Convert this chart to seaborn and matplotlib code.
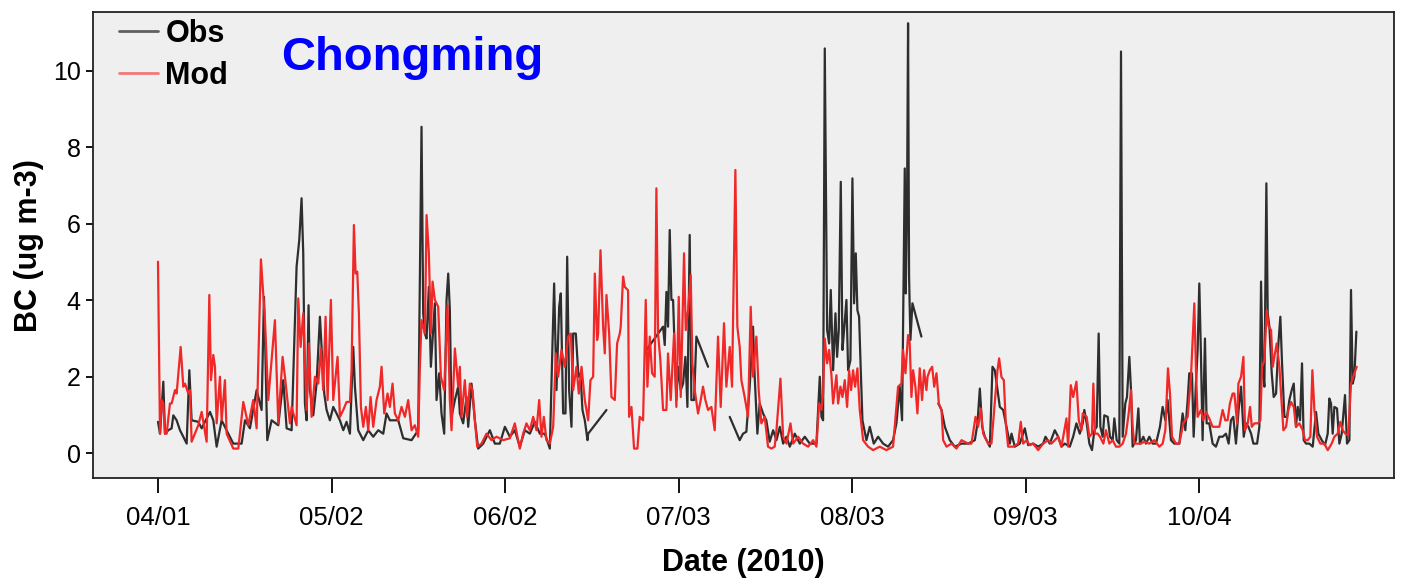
import numpy as np
import pandas as pd
import matplotlib
matplotlib.use("Agg")
import matplotlib.pyplot as plt
from matplotlib.lines import Line2D
import seaborn as sns

nan = np.nan
start_date = "2010-04-01"
tick_labels = ["04/01", "05/02", "06/02", "07/03", "08/03", "09/03", "10/04"]
series_names = ["Obs", "Mod"]

# (days since 2010-04-01, BC in ug m-3); nan marks missing observations
obs_points = [
    (0.0, 0.82), (0.36, 0.51), (0.95, 1.87), (1.25, 0.51), (1.85, 0.60), (2.44, 0.65), (2.74, 0.99),
    (3.33, 0.86), (3.93, 0.60), (4.52, 0.43), (5.12, 0.25), (5.6, 2.17), (6.01, 0.86), (7.2, 0.82),
    (7.8, 0.65), (9.29, 1.08), (9.88, 0.86), (10.48, 0.17), (11.37, 0.86), (12.56, 0.51), (13.45, 0.25),
    (14.94, 0.25), (15.54, 0.86), (16.43, 0.65), (17.62, 1.65), (18.51, 1.13), (18.93, 4.09), (19.11, 3.13),
    (19.52, 0.34), (20.3, 0.86), (21.49, 0.73), (22.38, 1.91), (22.98, 0.65), (23.87, 0.60), (24.76, 4.88),
    (25.24, 5.58), (25.65, 6.67), (25.95, 5.23), (26.25, 1.30), (26.55, 0.86), (26.9, 3.87), (27.14, 1.65),
    (27.74, 0.99), (28.33, 1.82), (28.93, 3.57), (29.35, 2.43), (29.7, 1.56), (30.12, 1.13), (30.71, 0.86),
    (31.31, 1.21), (31.9, 1.04), (32.5, 0.86), (33.1, 0.60), (33.69, 0.82), (34.29, 0.51), (34.88, 2.78),
    (35.18, 1.74), (35.77, 0.60), (36.67, 0.34), (37.56, 0.60), (38.45, 0.43), (39.35, 0.60), (40.24, 0.51),
    (40.83, 1.04), (41.43, 0.86), (42.2, 0.86), (42.92, 0.86), (43.81, 0.39), (45.3, 0.34), (46.49, 0.60),
    (47.08, 8.54), (47.38, 3.66), (47.68, 3.13), (47.98, 3.0), (48.39, 4.35), (48.75, 2.26), (49.46, 3.92),
    (49.76, 1.39), (50.24, 2.09), (50.65, 1.04), (51.13, 0.51), (51.55, 4.01), (51.85, 4.70), (52.14, 3.74),
    (52.44, 0.95), (53.04, 1.39), (53.63, 1.74), (53.93, 1.04), (54.52, 0.78), (55.12, 1.47), (55.42, 0.69),
    (56.01, 1.82), (56.61, 0.86), (57.2, 0.12), (58.1, 0.25), (59.29, 0.60), (60.18, 0.25), (61.07, 0.25),
    (61.97, 0.69), (62.86, 0.43), (63.75, 0.60), (64.64, 0.17), (65.54, 0.60), (66.43, 0.51), (67.32, 0.82),
    (68.21, 0.51), (69.11, 0.51), (70.0, 0.12), (70.48, 2.87), (70.77, 4.44), (71.19, 1.65), (71.67, 3.83),
    (71.96, 4.18), (72.38, 1.04), (72.8, 1.04), (73.1, 5.14), (73.45, 1.65), (73.87, 0.69), (74.17, 3.13),
    (74.64, 3.13), (75.12, 2.0), (75.48, 2.09), (75.83, 1.13), (76.25, 0.86), (76.73, 0.34), (76.85, 0.51),
    (80.12, 1.13), (80.5, nan),
    (87.25, 2.70), (90.23, 3.31), (90.53, 2.83), (90.83, 4.22), (91.12, 3.31), (91.42, 5.84), (91.72, 4.01),
    (92.02, 4.01), (92.31, 2.70), (92.61, 1.39), (92.91, 2.26), (93.39, 1.65), (93.8, 1.82), (94.22, 2.52),
    (94.58, 1.21), (94.99, 5.71), (95.29, 1.39), (95.77, 1.39), (96.18, 3.05), (98.27, 2.26), (98.6, nan),
    (102.14, 0.95), (103.92, 0.34), (104.52, 0.51), (105.11, 0.56), (105.71, 1.74), (106.3, 3.31),
    (106.6, 2.0), (107.08, 0.51), (107.49, 1.30), (108.09, 1.04), (108.68, 0.86), (109.28, 0.30),
    (109.9, 0.60), (110.49, 0.34), (111.09, 0.69), (111.68, 0.25), (112.28, 0.43), (112.87, 0.17),
    (113.76, 0.51), (114.66, 0.25), (115.55, 0.43), (116.44, 0.25), (117.63, 0.25), (118.23, 2.0),
    (118.53, 0.95), (118.82, 0.86), (119.12, 10.59), (119.54, 3.22), (119.9, 2.87), (120.19, 4.27),
    (120.61, 2.17), (121.03, 3.66), (121.32, 2.52), (121.62, 3.22), (121.98, 7.10), (122.28, 2.70),
    (122.57, 3.22), (122.99, 4.01), (123.29, 2.17), (123.7, 2.43), (124.06, 7.19), (124.36, 3.92),
    (124.66, 5.23), (124.95, 3.74), (125.25, 3.57), (125.55, 2.17), (125.85, 0.86), (126.56, 0.34),
    (127.16, 0.69), (127.87, 0.25), (128.65, 0.43), (129.54, 0.25), (130.43, 0.17), (131.32, 0.34),
    (131.92, 0.78), (132.51, 1.74), (132.93, 0.86), (133.41, 7.45), (133.59, 4.18), (133.82, 6.62),
    (134.0, 11.25), (134.18, 4.62), (134.42, 2.96), (134.78, 3.92), (136.38, 3.05), (136.7, nan),
    (139.4, 1.30), (139.98, 1.13), (140.57, 0.69), (141.46, 0.34), (142.36, 0.17), (143.55, 0.25),
    (144.74, 0.25), (145.93, 0.34), (146.4, 0.78), (146.82, 1.69), (147.24, 0.69), (147.71, 0.43),
    (148.61, 0.17), (149.08, 2.26), (149.5, 2.17), (149.98, 1.65), (150.39, 1.21), (150.99, 1.13),
    (151.58, 0.69), (152.18, 0.25), (152.48, 0.51), (153.07, 0.17), (153.96, 0.25), (154.86, 0.65),
    (155.45, 0.21), (156.35, 0.25), (157.24, 0.17), (158.13, 0.25), (158.55, 0.43), (159.32, 0.25),
    (160.21, 0.60), (160.81, 0.43), (161.4, 0.17), (162.0, 0.25), (162.89, 0.17), (163.49, 0.43),
    (164.08, 0.78), (164.68, 0.51), (165.2, 0.78), (165.49, 1.13), (165.91, 0.78), (166.39, 0.25),
    (166.86, 0.08), (167.28, 0.60), (167.7, 0.69), (168.05, 3.13), (168.35, 0.69), (168.77, 0.43),
    (169.06, 0.99), (169.66, 0.95), (170.08, 0.43), (170.55, 0.34), (170.85, 0.91), (171.27, 0.34),
    (171.74, 0.25), (172.04, 10.51), (172.34, 0.43), (172.81, 1.30), (173.11, 1.47), (173.53, 2.52),
    (173.83, 1.65), (174.12, 0.17), (174.72, 0.34), (175.14, 1.17), (175.43, 0.25), (176.03, 0.43),
    (176.5, 0.25), (177.1, 0.43), (177.7, 0.25), (178.29, 0.25), (179.0, 0.69), (179.48, 1.21),
    (179.96, 0.86), (180.37, 1.39), (180.97, 0.34), (181.56, 0.25), (182.46, 0.25), (183.05, 1.04),
    (183.53, 0.60), (183.95, 1.39), (184.24, 2.09), (184.72, 2.09), (185.02, 0.43), (185.43, 1.82),
    (185.73, 2.70), (186.03, 4.44), (186.33, 2.52), (186.62, 0.34), (187.04, 3.0), (187.34, 0.78),
    (187.81, 0.78), (188.41, 0.25), (189.0, 0.17), (189.6, 0.43), (190.2, 0.43), (190.79, 0.51),
    (191.27, 0.25), (191.68, 0.86), (192.1, 0.95), (192.58, 0.25), (193.05, 1.13), (193.49, 1.74),
    (193.97, 0.43), (194.38, 0.78), (194.8, 0.69), (195.28, 0.51), (195.69, 0.25), (196.35, 0.25),
    (196.76, 0.69), (197.06, 4.49), (197.36, 2.17), (197.66, 1.74), (198.01, 7.06), (198.25, 3.66),
    (198.55, 3.31), (198.97, 2.09), (199.32, 1.47), (199.74, 1.56), (200.16, 2.87), (200.51, 3.57),
    (200.81, 2.35), (201.23, 0.95), (201.7, 0.95), (202.12, 1.39), (202.54, 1.65), (202.9, 1.82),
    (203.31, 0.69), (203.61, 1.21), (204.03, 0.86), (204.38, 2.35), (204.68, 0.34), (205.1, 0.25),
    (205.69, 0.25), (206.29, 0.17), (206.88, 1.08), (207.3, 0.51), (207.9, 0.34), (208.49, 0.21),
    (208.97, 0.51), (209.26, 1.43), (209.56, 1.30), (209.86, 0.51), (210.16, 1.21), (210.63, 1.17),
    (211.05, 0.25), (211.47, 0.51), (212.06, 1.52), (212.42, 0.25), (212.84, 0.34), (213.13, 4.27),
    (213.43, 1.82), (213.73, 2.0), (214.09, 3.18),
]

mod_points = [
    (0.0, 5.01), (0.36, 0.51), (0.65, 1.39), (0.95, 1.30), (1.25, 0.51), (1.55, 0.51), (2.14, 1.30),
    (2.44, 1.30), (3.04, 1.65), (3.33, 1.56), (4.05, 2.78), (4.52, 1.74), (4.82, 1.82), (5.42, 1.56),
    (5.71, 1.65), (6.01, 0.30), (7.2, 0.73), (7.8, 1.08), (8.69, 0.30), (9.17, 4.14), (9.46, 1.91),
    (9.88, 2.57), (10.18, 2.26), (10.48, 0.78), (11.07, 2.0), (11.37, 0.86), (11.96, 1.91), (12.26, 0.51),
    (13.45, 0.12), (14.35, 0.12), (15.24, 1.34), (16.13, 0.73), (17.02, 1.39), (17.62, 0.65), (18.39, 5.07),
    (19.11, 3.48), (19.7, 1.39), (20.89, 3.48), (21.49, 0.78), (22.26, 2.52), (22.68, 2.0), (23.57, 0.78),
    (23.87, 1.21), (24.76, 0.73), (25.06, 4.05), (25.48, 2.78), (25.95, 3.66), (26.55, 1.13), (26.96, 2.87),
    (27.44, 0.95), (28.04, 2.0), (28.63, 1.82), (29.11, 2.74), (29.52, 1.65), (29.94, 3.57), (30.3, 1.39),
    (30.89, 4.01), (31.31, 1.39), (32.08, 2.52), (32.5, 0.95), (33.1, 1.13), (33.69, 1.34), (34.29, 1.34),
    (34.58, 2.17), (35.0, 5.97), (35.3, 4.70), (35.6, 4.75), (35.89, 3.66), (36.25, 1.21), (36.67, 0.69),
    (37.14, 1.21), (37.56, 0.60), (37.98, 1.47), (38.45, 0.69), (39.05, 1.39), (39.64, 1.74), (39.94, 2.26),
    (40.42, 1.04), (41.01, 1.56), (41.43, 1.21), (41.9, 1.82), (42.32, 1.04), (42.92, 0.86), (43.51, 1.21),
    (44.11, 0.95), (44.7, 1.39), (45.3, 0.60), (45.89, 0.73), (46.49, 0.43), (46.79, 2.26), (47.08, 3.48),
    (47.68, 3.13), (47.98, 6.23), (48.39, 5.23), (48.75, 3.13), (49.05, 4.49), (49.46, 4.01), (50.06, 3.83),
    (50.54, 2.0), (51.13, 1.65), (51.73, 3.87), (52.14, 1.39), (52.44, 0.60), (53.04, 2.74), (53.63, 1.74),
    (53.93, 2.26), (54.23, 0.95), (54.82, 1.91), (55.24, 0.95), (55.72, 1.82), (56.19, 1.65), (56.61, 0.86),
    (57.03, 0.17), (57.8, 0.25), (58.69, 0.51), (59.58, 0.34), (60.48, 0.43), (61.67, 0.34), (62.86, 0.39),
    (63.75, 0.78), (64.64, 0.12), (65.24, 0.51), (65.83, 0.78), (66.43, 0.60), (67.03, 0.95), (67.62, 0.60),
    (68.1, 1.39), (68.51, 0.43), (68.93, 0.95), (69.4, 0.34), (70.0, 0.25), (70.6, 0.69), (71.07, 2.61),
    (71.49, 2.0), (72.08, 2.70), (72.68, 2.26), (73.27, 3.05), (73.75, 3.13), (74.17, 1.65), (74.76, 2.26),
    (75.18, 1.56), (75.66, 2.26), (76.25, 1.39), (76.85, 0.86), (77.26, 1.91), (77.74, 2.0), (78.04, 4.70),
    (78.45, 2.96), (78.63, 3.13), (79.05, 5.31), (79.52, 3.31), (79.82, 2.61), (80.12, 4.14), (80.6, 3.13),
    (81.01, 1.47), (81.61, 1.39), (82.02, 2.87), (82.5, 3.13), (82.67, 3.31), (83.09, 4.62), (83.39, 4.35),
    (83.98, 4.26), (84.16, 0.95), (84.58, 1.21), (85.05, 0.12), (85.65, 0.12), (86.06, 0.95), (86.66, 0.86),
    (87.14, 4.01), (87.43, 1.74), (87.85, 3.05), (88.27, 2.09), (88.74, 2.0), (89.04, 6.93), (89.34, 3.13),
    (89.75, 2.43), (90.23, 1.13), (90.83, 1.13), (91.12, 2.61), (91.6, 1.39), (92.2, 3.13), (92.61, 1.21),
    (93.03, 4.09), (93.39, 1.47), (93.98, 5.23), (94.28, 3.22), (94.7, 3.74), (95.17, 4.66), (95.47, 2.35),
    (95.89, 1.65), (96.48, 1.04), (96.96, 1.39), (97.37, 1.74), (97.79, 1.39), (98.27, 1.13), (98.86, 1.21),
    (99.46, 0.60), (100.05, 3.05), (100.53, 1.21), (101.12, 3.40), (101.54, 1.74), (102.14, 2.78),
    (102.55, 1.74), (103.15, 7.41), (103.5, 3.31), (103.92, 2.78), (104.22, 1.91), (104.81, 1.47),
    (105.41, 0.95), (105.89, 3.83), (106.3, 2.0), (106.9, 3.05), (107.31, 1.65), (107.79, 0.78),
    (108.39, 0.95), (108.98, 0.17), (109.58, 0.12), (110.17, 0.17), (110.49, 0.60), (111.2, 1.95),
    (111.68, 0.43), (112.28, 0.25), (112.99, 0.78), (113.47, 0.25), (114.36, 0.43), (115.25, 0.25),
    (116.15, 0.17), (117.04, 0.34), (117.63, 0.17), (118.11, 1.30), (118.53, 1.13), (118.82, 1.56),
    (119.12, 3.0), (119.54, 2.35), (119.9, 2.70), (120.31, 2.04), (120.61, 1.30), (121.2, 2.04),
    (121.5, 1.30), (121.92, 1.74), (122.28, 1.47), (122.69, 1.91), (123.11, 1.21), (123.47, 2.17),
    (123.82, 1.65), (124.18, 2.17), (124.54, 1.74), (124.95, 2.22), (125.37, 1.13), (125.97, 0.34),
    (126.86, 0.17), (127.75, 0.08), (128.94, 0.17), (130.13, 0.08), (131.32, 0.17), (132.22, 1.74),
    (132.81, 1.82), (133.1, 2.70), (133.53, 2.09), (134.0, 3.09), (134.3, 2.87), (134.6, 1.47),
    (134.9, 2.17), (135.31, 1.74), (135.67, 1.04), (136.09, 2.22), (136.5, 1.39), (136.86, 2.17),
    (137.28, 1.65), (137.48, 2.0), (137.89, 2.17), (138.31, 2.26), (138.67, 1.74), (139.08, 2.09),
    (139.5, 1.30), (139.98, 1.13), (140.27, 0.34), (140.87, 0.17), (141.76, 0.25), (142.65, 0.12),
    (143.55, 0.34), (144.74, 0.25), (145.33, 0.25), (146.05, 0.95), (146.52, 0.69), (147.0, 1.17),
    (147.42, 0.51), (148.31, 0.25), (148.9, 0.25), (149.5, 1.34), (149.98, 2.17), (150.27, 2.48),
    (150.69, 1.99), (151.11, 1.91), (151.46, 0.78), (151.88, 0.17), (152.77, 0.17), (153.67, 0.25),
    (154.14, 0.82), (154.56, 0.25), (155.15, 0.34), (155.75, 0.21), (156.35, 0.25), (157.24, 0.08),
    (158.13, 0.25), (159.02, 0.34), (159.62, 0.25), (160.21, 0.34), (160.81, 0.43), (161.4, 0.17),
    (162.3, 0.91), (162.6, 0.17), (163.07, 1.78), (163.49, 1.47), (164.08, 1.87), (164.5, 0.86),
    (164.98, 0.60), (165.2, 1.04), (165.91, 0.95), (166.39, 0.43), (166.86, 0.51), (167.1, 1.82),
    (167.4, 0.51), (167.87, 0.51), (168.29, 0.43), (168.89, 0.25), (169.36, 0.60), (169.96, 0.25),
    (170.55, 0.34), (171.15, 0.17), (171.74, 0.17), (172.34, 0.25), (172.93, 0.51), (173.41, 1.04),
    (173.83, 1.65), (174.12, 0.69), (174.42, 0.25), (175.02, 0.25), (175.61, 0.25), (176.21, 0.30),
    (177.1, 0.25), (177.99, 0.34), (178.89, 0.17), (179.48, 0.25), (179.96, 0.60), (180.43, 2.22),
    (180.79, 1.56), (181.15, 0.43), (181.86, 0.25), (182.46, 0.25), (183.17, 0.78), (183.95, 0.95),
    (184.54, 2.0), (185.14, 3.92), (185.43, 2.17), (185.73, 0.95), (186.33, 1.13), (186.74, 0.86),
    (187.22, 1.08), (187.81, 0.91), (188.41, 0.69), (189.0, 0.69), (189.6, 0.69), (190.2, 1.13),
    (190.67, 0.86), (191.09, 0.86), (191.5, 1.30), (191.98, 1.56), (192.3, 1.56), (192.78, 0.78),
    (193.01, 1.82), (193.49, 2.0), (193.91, 2.52), (194.2, 0.60), (194.68, 0.78), (195.1, 1.21),
    (195.4, 0.69), (195.87, 0.78), (196.47, 0.78), (196.94, 0.86), (197.24, 2.26), (197.66, 2.43),
    (198.07, 3.74), (198.43, 3.31), (198.85, 3.22), (199.15, 2.26), (199.44, 2.52), (199.86, 2.87),
    (200.34, 2.26), (200.63, 1.56), (201.05, 0.60), (201.53, 0.69), (201.94, 1.13), (202.42, 1.34),
    (202.9, 1.21), (203.31, 0.69), (203.91, 0.78), (204.5, 0.60), (204.92, 0.34), (205.4, 0.34),
    (205.87, 0.43), (206.23, 2.17), (206.59, 1.13), (207.06, 0.43), (207.66, 0.25), (208.37, 0.25),
    (208.97, 0.08), (209.68, 0.25), (210.16, 0.43), (210.75, 0.51), (211.23, 0.82), (211.65, 0.60),
    (212.12, 0.51), (212.66, 0.47), (213.13, 1.82), (213.73, 2.09), (214.15, 2.26),
]


def to_frame(points, name):
    df = pd.DataFrame(points, columns=["day", "BC"])
    # split the record into continuous pieces at missing values
    df["segment"] = df["BC"].isna().cumsum()
    df = df.dropna()
    df["date"] = pd.Timestamp(start_date) + pd.to_timedelta(df["day"], unit="D")
    df["series"] = name
    df["unit"] = name + "-" + df["segment"].astype(str)
    return df


data = pd.concat([to_frame(obs_points, "Obs"), to_frame(mod_points, "Mod")], ignore_index=True)

sns.set_theme(style="ticks")
plt.rcParams["font.family"] = ["Liberation Sans", "DejaVu Sans"]
plt.rcParams["text.color"] = "black"
plt.rcParams["axes.labelcolor"] = "black"
plt.rcParams["xtick.color"] = "black"
plt.rcParams["ytick.color"] = "black"

line_colors = {"Obs": "#2e2e2e", "Mod": "#f02828"}
legend_colors = {"Obs": "#606060", "Mod": "#f27878"}

fig = plt.figure(figsize=(14.1, 5.78), dpi=100)
ax = fig.add_axes([0.066, 0.173, 0.923, 0.806])
ax.set_facecolor("#efefef")

sns.lineplot(data=data, x="date", y="BC", hue="series", units="unit", estimator=None,
             palette=line_colors, hue_order=series_names, linewidth=1.6, legend=False,
             sort=True, ax=ax)

origin = pd.Timestamp(start_date)
ax.set_xlim(origin - pd.Timedelta(days=11.6), origin + pd.Timedelta(days=220.9))
ax.set_ylim(-0.65, 11.54)

tick_dates = [pd.Timestamp("2010/" + t) for t in tick_labels]
ax.set_xticks(tick_dates)
ax.set_xticklabels(tick_labels)
ax.set_yticks([0, 2, 4, 6, 8, 10])

ax.tick_params(axis="x", length=11, width=1.3, pad=9, labelsize=18.5, colors="black")
ax.tick_params(axis="y", length=5, width=1.3, pad=4, labelsize=18, colors="black")
for s in ax.spines.values():
    s.set_color("#222222")
    s.set_linewidth(1.3)

ax.set_xlabel("Date (2010)", fontsize=22, fontweight="bold", labelpad=13)
ax.set_ylabel("BC (ug m-3)", fontsize=22, fontweight="bold", labelpad=6)

handles = [Line2D([], [], color=legend_colors[n], linewidth=2) for n in series_names]
leg = ax.legend(handles, series_names, loc="upper left", bbox_to_anchor=(0.006, 1.025),
                frameon=False, handlelength=1.28, handletextpad=0.23, labelspacing=0.4,
                borderaxespad=0.2, prop={"size": 22, "weight": "bold"})

ax.text(0.1444, 0.8755, "Chongming", transform=ax.transAxes, fontsize=34,
        fontweight="bold", color="#0000ff", va="baseline", ha="left")

fig.savefig("out.png", dpi=100)
